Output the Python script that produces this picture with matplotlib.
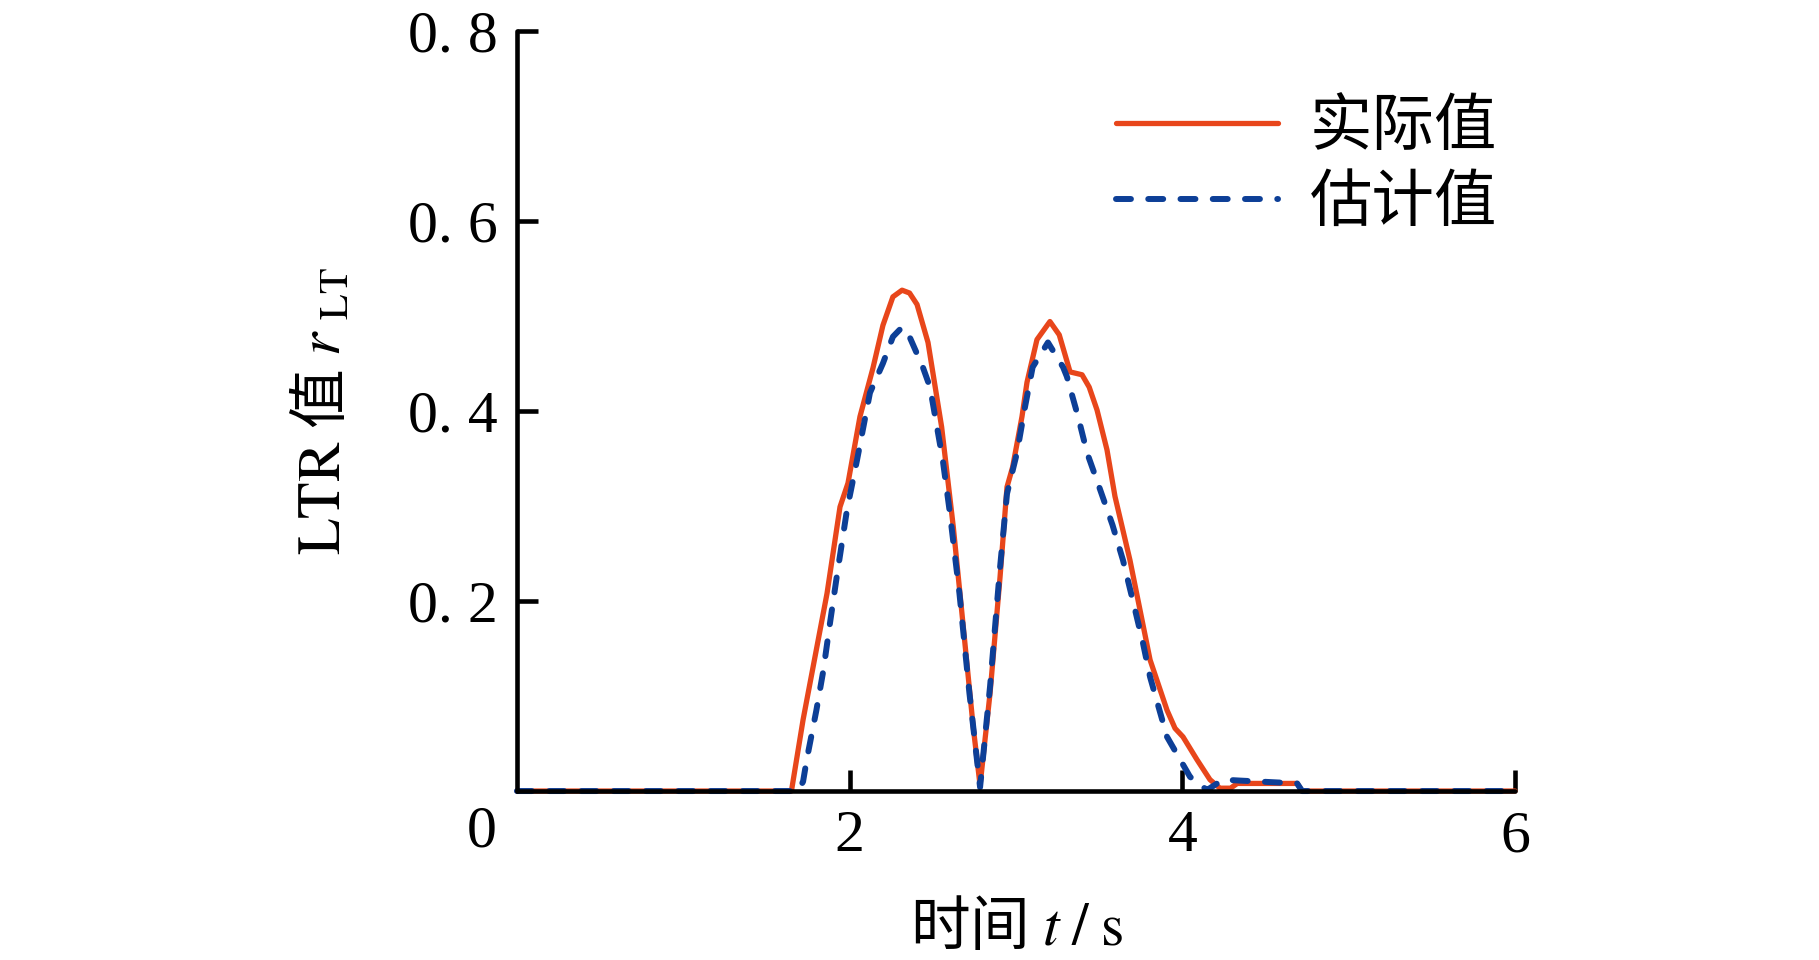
import numpy as np
import matplotlib.pyplot as plt
import matplotlib.transforms as mtrans

plt.rcParams['font.family'] = ['Liberation Serif', 'Noto Sans CJK SC']
plt.rcParams['mathtext.fontset'] = 'stix'

#%% data
t_actual = [0.0, 1.65, 1.72, 1.864, 1.942, 1.99, 2.062, 2.14, 2.20, 2.26, 2.315,
            2.36, 2.405, 2.471, 2.553, 2.623, 2.683, 2.743, 2.784, 2.844, 2.904,
            2.946, 2.98, 3.036, 3.066, 3.126, 3.204, 3.26, 3.325, 3.397, 3.44,
            3.487, 3.547, 3.595, 3.685, 3.806, 3.908, 3.956, 4.004, 4.088, 4.166,
            4.226, 4.29, 4.33, 4.69, 4.72, 6.0]
r_actual = [0.0, 0.0, 0.075, 0.208, 0.299, 0.324, 0.394, 0.445, 0.49, 0.52, 0.527,
            0.524, 0.512, 0.472, 0.383, 0.278, 0.173, 0.067, 0.006, 0.103, 0.225,
            0.32, 0.341, 0.394, 0.43, 0.475, 0.494, 0.48, 0.441, 0.438, 0.425,
            0.401, 0.359, 0.31, 0.243, 0.138, 0.085, 0.066, 0.057, 0.033, 0.012,
            0.003, 0.003, 0.008, 0.008, 0.0, 0.0]

t_est = [0.0, 1.69, 1.72, 1.742, 1.80, 1.842, 1.882, 1.922, 1.984, 2.044, 2.122,
         2.2, 2.26, 2.315, 2.36, 2.44, 2.483, 2.56, 2.60, 2.66, 2.72, 2.784,
         2.844, 2.904, 2.946, 3.006, 3.054, 3.10, 3.192, 3.283, 3.306, 3.373,
         3.427, 3.50, 3.58, 3.643, 3.703, 3.763, 3.806, 3.908, 4.046, 4.148,
         4.244, 4.347, 4.69, 4.72, 6.0]
r_est = [0.0, 0.0, 0.01, 0.033, 0.085, 0.127, 0.177, 0.225, 0.296, 0.348, 0.419,
         0.45, 0.478, 0.488, 0.478, 0.446, 0.425, 0.348, 0.296, 0.208, 0.103, 0.004,
         0.11, 0.235, 0.313, 0.356, 0.404, 0.446, 0.472, 0.446, 0.436, 0.394,
         0.356, 0.32, 0.28, 0.243, 0.2, 0.156, 0.12, 0.057, 0.015, 0.001,
         0.012, 0.011, 0.008, 0.0, 0.0]

x_ticks = [2, 4, 6]
y_ticks = [0.2, 0.4, 0.6, 0.8]
y_ticklabels = ['0. 2', '0. 4', '0. 6', '0. 8']

red = '#E8461B'
blue = '#0D3F97'

#%% plot
fig = plt.figure(figsize=(18.19, 9.6), dpi=100)
ax = fig.add_axes([0.2842, 0.176, 0.5487, 0.792])

ax.plot(t_actual, r_actual, color=red, lw=3.8, solid_capstyle='round',
        solid_joinstyle='round', clip_on=False, label='实际值')
ax.plot(t_est, r_est, color=blue, lw=4.3, dashes=(2.5, 2.9),
        dash_capstyle='round', clip_on=False, label='估计值')

ax.set_xlim(0, 6)
ax.set_ylim(0, 0.8)
ax.set_xticks(x_ticks)
ax.set_yticks(y_ticks)
ax.set_yticklabels(y_ticklabels)
ax.tick_params(direction='in', length=15, width=3.3, labelsize=43, pad=14)
for s in ['top', 'right']:
    ax.spines[s].set_visible(False)
for s in ['left', 'bottom']:
    ax.spines[s].set_linewidth(3.3)
    ax.spines[s].set_capstyle('round')

# shared origin label
off = mtrans.ScaledTranslation(-0.35, -0.14, fig.dpi_scale_trans)
ax.text(0, 0, '0', fontsize=43, ha='center', va='top',
        transform=ax.transData + off)

# non-math parts use the text's own font (CJK), math parts use STIX
ax.set_xlabel('时间 $t\\;/\\;\\mathrm{s}$', fontsize=43, labelpad=24,
              family='Noto Sans CJK SC')
ax.set_ylabel('$\\mathrm{LTR}$ 值 $r\\;{}_{\\mathrm{LT}}$', fontsize=43,
              labelpad=38, family='Noto Sans CJK SC')

leg = ax.legend(loc='upper left', bbox_to_anchor=(0.6, 0.916), frameon=False,
                prop={'family': 'Noto Sans CJK SC', 'size': 45},
                handlelength=2.6, handletextpad=0.5,
                labelspacing=0.2, borderpad=0, borderaxespad=0)

plt.savefig('out.png', dpi=100)
